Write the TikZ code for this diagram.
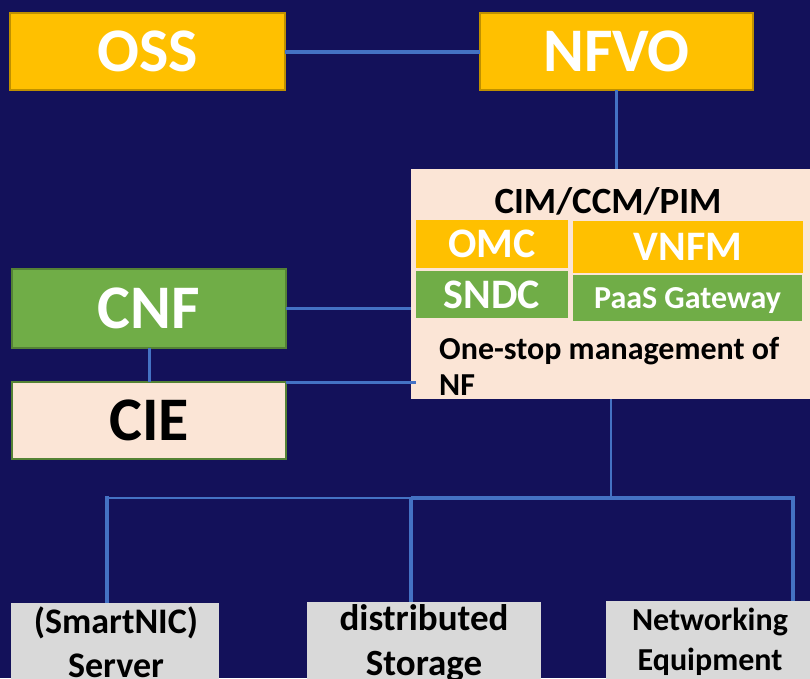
\documentclass[tikz,border=0pt]{standalone}
\usepackage{fontspec}
\setmainfont{Carlito}
\definecolor{bg}{RGB}{19,17,90}
\definecolor{linkblue}{RGB}{68,114,196}
\definecolor{gold}{RGB}{255,192,0}
\definecolor{golddark}{RGB}{191,144,0}
\definecolor{leaf}{RGB}{112,173,71}
\definecolor{leafdark}{RGB}{84,130,53}
\definecolor{peach}{RGB}{251,229,214}
\definecolor{greybox}{RGB}{217,217,217}
\newcommand{\fs}[1]{\bfseries\fontsize{#1}{#1}\selectfont}
\tikzset{
  basebox/.style={rectangle, inner sep=0pt, outer sep=0pt},
  goldbox/.style={basebox, fill=gold, draw=golddark, line width=1.5pt, text=white, font=\fs{62}},
  greenbox/.style={basebox, fill=leaf, draw=leafdark, line width=1.5pt, text=white, font=\fs{62}},
  ciebox/.style={basebox, fill=peach, draw=leafdark, line width=1.5pt, text=black, font=\fs{62}},
  innergold/.style={basebox, fill=gold, text=white, font=\fs{42}, text depth=0pt},
  innergreen/.style={basebox, fill=leaf, text=white, text depth=0pt},
  hwbox/.style={basebox, fill=greybox},
  hwtext/.style={align=center, anchor=base, text=black, inner sep=0pt},
  conn/.style={draw=linkblue, line width=3pt},
}
\begin{document}
\begin{tikzpicture}[x=1pt,y=-1pt]
\fill[bg] (0,0) rectangle (810,678);
\clip (0,0) rectangle (810,678);

% top boxes
\node[goldbox, minimum width=275pt, minimum height=77pt] (oss) at (147.5,51.5) {OSS};
\node[goldbox, minimum width=273pt, minimum height=77pt] (nfvo) at (616.5,51.5) {NFVO};

% left boxes
\node[greenbox, minimum width=274pt, minimum height=79pt] (cnf) at (149,308.5) {CNF};
\node[ciebox, minimum width=274pt, minimum height=77pt] (cie) at (149,420.5) {CIE};

% management box
\node[basebox, fill=peach, minimum width=404pt, minimum height=230pt] (big) at (613,284) {};
\node[font=\fs{37}, text=black, inner sep=0pt, anchor=base] (cim) at (608,213) {CIM/CCM/PIM};
\node[innergold, minimum width=152pt, minimum height=48pt] (omc) at (492,244) {OMC};
\node[innergold, minimum width=230pt, minimum height=52pt] (vnfm) at (688,247) {VNFM};
\node[innergreen, font=\fs{42}, minimum width=152pt, minimum height=47pt] (sndc) at (492,294.5) {SNDC};
\node[innergreen, font=\fs{32}, minimum width=229pt, minimum height=46pt] (paas) at (687.5,298) {PaaS Gateway};
\node[align=left, anchor=base west, inner sep=0pt, font=\bfseries\fontsize{32}{36}\selectfont, text=black] (onestop) at (439,395) {One-stop management of\\NF};

% hardware boxes
\node[hwbox, anchor=north, minimum width=208pt, minimum height=100pt] (srv) at (115,603) {};
\node[hwbox, anchor=north, minimum width=234pt, minimum height=100pt] (sto) at (424,602) {};
\node[hwbox, anchor=north, minimum width=209pt, minimum height=100pt] (net) at (710.5,601) {};
\node[hwtext, font=\bfseries\fontsize{36}{44}\selectfont] (srvt) at (116,677) {(SmartNIC)\\Server};
\node[hwtext, font=\bfseries\fontsize{37}{45}\selectfont] (stot) at (424,675) {distributed\\Storage};
\node[hwtext, font=\bfseries\fontsize{32}{40}\selectfont] (nett) at (710,670) {Networking\\Equipment};

% connectors
\draw[conn, line width=4pt] (oss.east) -- (nfvo.west);
\draw[conn] (nfvo.south) -- (nfvo.south |- big.north);
\draw[conn] (cnf.east) -- (cnf.east -| big.west);
\draw[conn] (cnf.south) -- (cnf.south |- cie.north);
\draw[conn] (cie.north east) -- ([xshift=5pt]cie.north east -| big.west);

\coordinate (j) at (611,498);
\coordinate (ls) at (107,498);
\coordinate (ms) at (411,498);
\coordinate (rs) at (793,498);
\draw[conn, line width=2pt] (j |- big.south) -- (j);
\draw[conn, line width=2pt] (ls) -- (ms);
\draw[conn, line width=4pt] (ms) -- (rs) -- (rs |- net.north);
\draw[conn, line width=4pt] ([yshift=2pt]ls) -- (ls |- srv.north);
\draw[conn, line width=4pt] (ms) -- (ms |- sto.north);
\end{tikzpicture}
\end{document}
